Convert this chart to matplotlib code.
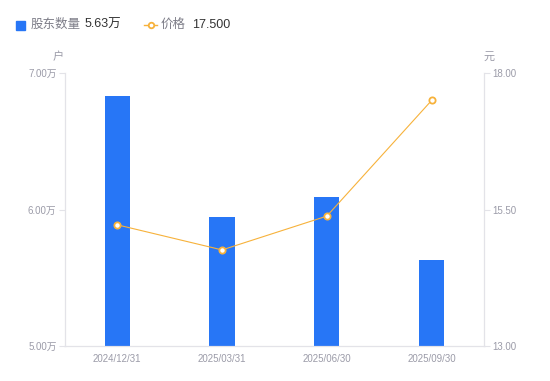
import matplotlib
matplotlib.use("Agg")
import matplotlib.pyplot as plt
from matplotlib.lines import Line2D
from matplotlib.patches import Rectangle
import numpy as np

plt.rcParams['font.family'] = ['Liberation Sans', 'Noto Sans CJK SC', 'DejaVu Sans']

# data
dates = ['2024/12/31', '2025/03/31', '2025/06/30', '2025/09/30']
holders = [6.83, 5.945, 6.09, 5.63]      # 万户
price = [15.22, 14.76, 15.38, 17.50]     # 元

bar_color = '#2776f6'
line_color = '#f7b23b'
tick_color = '#9b9ba8'
spine_color = '#e3e3e8'

fig = plt.figure(figsize=(5.5, 3.81), dpi=100)
ax = fig.add_axes([0.118, 0.092, 0.762, 0.716])
x = np.arange(len(dates))
ax.bar(x, holders, width=0.24, color=bar_color, zorder=2)
ax.set_xlim(-0.5, len(dates) - 0.5)
ax.set_ylim(5.0, 7.0)
ax.set_yticks([5.0, 6.0, 7.0])
ax.set_yticklabels([f'{v:.2f}万' for v in [5.0, 6.0, 7.0]])
ax.set_xticks(x)
ax.set_xticklabels(dates)

ax2 = ax.twinx()
ax2.plot(x, price, color=line_color, lw=0.8, marker='o', ms=4.5,
         mfc='white', mec=line_color, mew=1.3, zorder=3)
ax2.set_ylim(13.0, 18.0)
ax2.set_yticks([13.0, 15.5, 18.0])
ax2.set_yticklabels([f'{v:.2f}' for v in [13.0, 15.5, 18.0]])

for a in (ax, ax2):
    for s in a.spines.values():
        s.set_color(spine_color)
        s.set_linewidth(0.8)
    a.spines['top'].set_visible(False)
    a.tick_params(colors=tick_color, labelsize=7, length=4, width=0.8, pad=2)
    a.tick_params(axis='y', color=spine_color)
ax.tick_params(axis='x', length=0, pad=6)

# axis unit labels
fig.text(58 / 550, 1 - 57 / 381, '户', color=tick_color, fontsize=8, ha='center', va='center')
fig.text(489 / 550, 1 - 57 / 381, '元', color=tick_color, fontsize=8, ha='center', va='center')

# legend at top
ly = 1 - 25 / 381
fig.patches.append(Rectangle((16 / 550, ly - 4.5 / 381), 9 / 550, 9 / 381,
                             transform=fig.transFigure, color=bar_color, figure=fig))
fig.text(31 / 550, ly, '股东数量', color='#7d7d88', fontsize=9, va='center')
fig.text(85 / 550, ly, f'{holders[-1]:.2f}万', color='#333333', fontsize=9, va='center')
fig.lines.append(Line2D([144 / 550, 157 / 550], [ly, ly], transform=fig.transFigure,
                        color=line_color, lw=1, figure=fig))
fig.lines.append(Line2D([150.5 / 550], [ly], transform=fig.transFigure, marker='o', ms=4,
                        mfc='white', mec=line_color, mew=1.3, ls='', figure=fig))
fig.text(161 / 550, ly, '价格', color='#7d7d88', fontsize=9, va='center')
fig.text(192 / 550, ly, f'{price[-1]:.3f}', color='#333333', fontsize=9, va='center')

fig.savefig('out.png', dpi=100)
